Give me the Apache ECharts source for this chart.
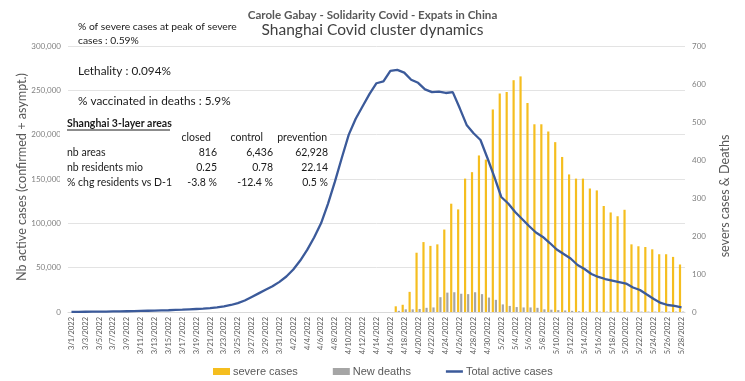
<!DOCTYPE html>
<html>
<head>
<meta charset="utf-8">
<script src="https://cdn.jsdelivr.net/npm/echarts@6/dist/echarts.min.js"></script>
<style>html,body{margin:0;padding:0;background:#fff;}#c{width:745px;height:381px;}</style>
</head>
<body>
<div id="c"></div>
<script>
const dates = ["3/1/2022","3/2/2022","3/3/2022","3/4/2022","3/5/2022","3/6/2022","3/7/2022","3/8/2022","3/9/2022","3/10/2022",
"3/11/2022","3/12/2022","3/13/2022","3/14/2022","3/15/2022","3/16/2022","3/17/2022","3/18/2022","3/19/2022","3/20/2022",
"3/21/2022","3/22/2022","3/23/2022","3/24/2022","3/25/2022","3/26/2022","3/27/2022","3/28/2022","3/29/2022","3/30/2022",
"3/31/2022","4/1/2022","4/2/2022","4/3/2022","4/4/2022","4/5/2022","4/6/2022","4/7/2022","4/8/2022","4/9/2022",
"4/10/2022","4/11/2022","4/12/2022","4/13/2022","4/14/2022","4/15/2022","4/16/2022","4/17/2022","4/18/2022","4/19/2022",
"4/20/2022","4/21/2022","4/22/2022","4/23/2022","4/24/2022","4/25/2022","4/26/2022","4/27/2022","4/28/2022","4/29/2022",
"4/30/2022","5/1/2022","5/2/2022","5/3/2022","5/4/2022","5/5/2022","5/6/2022","5/7/2022","5/8/2022","5/9/2022",
"5/10/2022","5/11/2022","5/12/2022","5/13/2022","5/14/2022","5/15/2022","5/16/2022","5/17/2022","5/18/2022","5/19/2022",
"5/20/2022","5/21/2022","5/22/2022","5/23/2022","5/24/2022","5/25/2022","5/26/2022","5/27/2022","5/28/2022"];

const severeCases = [0,0,0,0,0,0,0,0,0,0, 0,0,0,0,0,0,0,0,0,0, 0,0,0,0,0,0,0,0,0,0, 0,0,0,0,0,0,0,0,0,0, 0,0,0,0,0,0,0,
15,19,53,156,184,174,178,217,285,270,351,368,412,401,533,575,579,610,620,550,494,494,475,447,408,362,351,351,325,320,279,262,252,269,178,173,171,165,152,152,145,125];

const newDeaths = [0,0,0,0,0,0,0,0,0,0, 0,0,0,0,0,0,0,0,0,0, 0,0,0,0,0,0,0,0,0,0, 0,0,0,0,0,0,0,0,0,0, 0,0,0,0,0,0,0,
3,7,7,8,11,12,39,51,52,48,47,52,47,38,32,20,16,13,12,12,11,7,6,5,4,3,2,1,1,1,1,1,1,1,1,1,1,1,1,1,1,1];

const totalActive = [200,250,300,350,400,500,600,700,850,1000,1200,1400,1600,1800,2000,2300,2600,3000,3400,3800,
4300,5200,6400,7900,10000,13000,17000,21000,25000,29000,34000,40000,48000,58000,70000,84000,100000,122000,147000,174000,
200000,218000,232000,246000,258000,260000,272000,273000,270000,262000,258500,251000,248000,248500,247000,248000,230000,211000,201600,194000,
173700,152300,129700,122400,112800,104900,97000,89700,84600,77800,70500,65400,60300,53000,48500,42900,39500,37200,35500,33800,
32100,27600,24800,19700,14700,10200,7900,6800,5300];

const leftTicks = {min:0, max:300000, interval:50000};
const rightTicks = {min:0, max:700, interval:100};

const FONT = 'Lato, "Open Sans", sans-serif';
const LEGFONT = '"Liberation Sans", Arial, sans-serif';
const chart = echarts.init(document.getElementById('c'), null, {renderer:'canvas'});

const tableRows = [
  ["nb areas","816","6,436","62,928"],
  ["nb residents mio","0.25","0.78","22.14"],
  ["% chg residents vs D-1","-3.8 %","-12.4 %","0.5 %"]
];
const tableHeaders = ["closed","control","prevention"];

const graphics = [
  {type:'rect', z:1, shape:{x:60, y:116, width:270, height:74}, style:{fill:'#fff'}},
  {type:'text', z:2, left:'center', top:9, style:{text:'Carole Gabay - Solidarity Covid - Expats in China', font:'bold 11.6px '+FONT, fill:'#595959'}},
  {type:'text', z:2, left:'center', top:22, style:{text:'Shanghai Covid cluster dynamics', font:'15.5px '+FONT, fill:'#404040'}},
  {type:'text', z:2, x:78, y:22, style:{text:'% of severe cases at peak of severe', font:'10.3px '+FONT, fill:'#1a1a1a'}},
  {type:'text', z:2, x:78, y:36, style:{text:'cases : 0.59%', font:'10.3px '+FONT, fill:'#1a1a1a'}},
  {type:'text', z:2, x:78, y:65, style:{text:'Lethality : 0.094%', font:'11.8px '+FONT, fill:'#1a1a1a'}},
  {type:'text', z:2, x:78, y:95, style:{text:'% vaccinated in deaths : 5.9%', font:'11.8px '+FONT, fill:'#1a1a1a'}},
  {type:'text', z:2, x:67, y:118, style:{text:'Shanghai 3-layer areas', font:'bold 10.5px '+FONT, fill:'#1a1a1a'}},
  {type:'line', z:2, shape:{x1:67, y1:130, x2:170, y2:130}, style:{stroke:'#1a1a1a', lineWidth:1}},
  {type:'text', z:2, x:22, y:177, rotation:Math.PI/2, style:{text:'Nb active cases (confirmed + asympt.)', font:'12.6px '+FONT, fill:'#595959', align:'center', verticalAlign:'middle'}},
  {type:'text', z:2, x:725, y:196, rotation:Math.PI/2, style:{text:'severs cases & Deaths', font:'12.6px '+FONT, fill:'#595959', align:'center', verticalAlign:'middle'}}
];
const headerX = [211, 263, 327];
tableHeaders.forEach((h,k)=>graphics.push({type:'text', z:2, x:headerX[k], y:132, style:{text:h, font:'10.5px '+FONT, fill:'#1a1a1a', align:'right'}}));
const valX = [217, 273, 328];
tableRows.forEach((r,j)=>{
  const y = 147 + j*15;
  graphics.push({type:'text', z:2, x:67, y:y, style:{text:r[0], font:'10.5px '+FONT, fill:'#1a1a1a'}});
  for (let k=0;k<3;k++) graphics.push({type:'text', z:2, x:valX[k], y:y, style:{text:r[k+1], font:'10.5px '+FONT, fill:'#1a1a1a', align:'right'}});
});

chart.setOption({
  animation:false,
  backgroundColor:'#fff',
  textStyle:{fontFamily:FONT},
  grid:{left:68, right:60, top:46, bottom:69, containLabel:false},
  legend:{
    left:213, top:366, padding:0, itemWidth:17, itemHeight:7, itemGap:35,
    textStyle:{fontSize:11, color:'#595959', fontFamily:LEGFONT, padding:[0,0,0,-2]},
    data:[{name:'severe cases', icon:'rect'},{name:'New deaths', icon:'rect'},
          {name:'Total active cases', icon:'path://M0,0L34,0L34,5L0,5Z'}]
  },
  xAxis:{
    type:'category', data:dates, boundaryGap:true,
    axisLine:{lineStyle:{color:'#D9D9D9'}},
    axisTick:{show:false},
    axisLabel:{rotate:90, interval:1, fontSize:7.5, color:'#595959', margin:5, fontFamily:FONT}
  },
  yAxis:[
    {type:'value', min:leftTicks.min, max:leftTicks.max, interval:leftTicks.interval, position:'left',
     axisLine:{show:false}, axisTick:{show:false},
     axisLabel:{fontSize:8, color:'#808080', margin:7, formatter:v=>v.toLocaleString('en-US')},
     splitLine:{lineStyle:{color:'#E3E3E3'}}},
    {type:'value', min:rightTicks.min, max:rightTicks.max, interval:rightTicks.interval, position:'right',
     axisLine:{show:false}, axisTick:{show:false},
     axisLabel:{fontSize:8, color:'#808080', margin:7},
     splitLine:{show:false}}
  ],
  series:[
    {name:'severe cases', type:'bar', yAxisIndex:1, data:severeCases, barWidth:2.2, barGap:'40%',
     itemStyle:{color:'#F5BE1F'}},
    {name:'New deaths', type:'bar', yAxisIndex:1, data:newDeaths, barWidth:2.2,
     itemStyle:{color:'#A5A5A5'}},
    {name:'Total active cases', type:'line', yAxisIndex:0, data:totalActive, symbol:'none', showSymbol:false,
     lineStyle:{color:'#3B5A9A', width:2.3}, itemStyle:{color:'#3B5A9A'}, z:5}
  ],
  graphic:graphics
});
</script>
</body>
</html>
